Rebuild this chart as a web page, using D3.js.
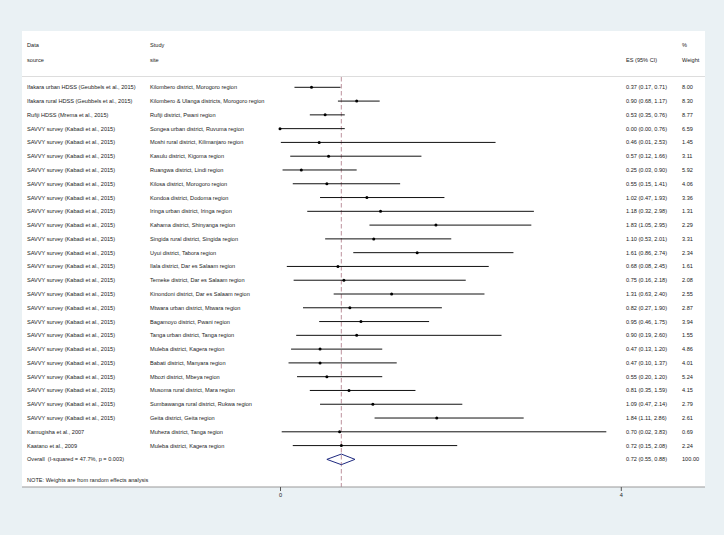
<!DOCTYPE html>
<html><head><meta charset="utf-8">
<script src="https://cdn.jsdelivr.net/npm/d3@7"></script>
<style>
html,body{margin:0;padding:0;background:#eaf1f4;}
svg{display:block;font-family:"Liberation Sans",Arial,Helvetica,sans-serif;}
text{white-space:pre;}
</style></head><body>
<svg id="c" width="724" height="535"></svg>
<script>
const sources = [
 "Ifakara urban HDSS (Geubbels et al., 2015)",
 "Ifakara rural HDSS (Geubbels et al., 2015)",
 "Rufiji HDSS (Mrema et al., 2015)",
 "SAVVY survey (Kabadi et al., 2015)","SAVVY survey (Kabadi et al., 2015)","SAVVY survey (Kabadi et al., 2015)",
 "SAVVY survey (Kabadi et al., 2015)","SAVVY survey (Kabadi et al., 2015)","SAVVY survey (Kabadi et al., 2015)",
 "SAVVY survey (Kabadi et al., 2015)","SAVVY survey (Kabadi et al., 2015)","SAVVY survey (Kabadi et al., 2015)",
 "SAVVY survey (Kabadi et al., 2015)","SAVVY survey (Kabadi et al., 2015)","SAVVY survey (Kabadi et al., 2015)",
 "SAVVY survey (Kabadi et al., 2015)","SAVVY survey (Kabadi et al., 2015)","SAVVY survey (Kabadi et al., 2015)",
 "SAVVY survey (Kabadi et al., 2015)","SAVVY survey (Kabadi et al., 2015)","SAVVY survey (Kabadi et al., 2015)",
 "SAVVY survey (Kabadi et al., 2015)","SAVVY survey (Kabadi et al., 2015)","SAVVY survey (Kabadi et al., 2015)",
 "SAVVY survey (Kabadi et al., 2015)",
 "Kamugisha et al., 2007",
 "Kaatano et al., 2009"
];
const sites = [
 "Kilombero district, Morogoro region",
 "Kilombero & Ulanga districts, Morogoro region",
 "Rufiji district, Pwani region",
 "Songea urban district, Ruvuma region",
 "Moshi rural district, Kilimanjaro region",
 "Kasulu district, Kigoma region",
 "Ruangwa district, Lindi region",
 "Kilosa district, Morogoro region",
 "Kondoa district, Dodoma region",
 "Iringa urban district, Iringa region",
 "Kahama district, Shinyanga region",
 "Singida rural district, Singida region",
 "Uyui district, Tabora region",
 "Ilala district, Dar es Salaam region",
 "Temeke district, Dar es Salaam region",
 "Kinondoni district, Dar es Salaam region",
 "Mtwara urban district, Mtwara region",
 "Bagamoyo district, Pwani region",
 "Tanga urban district, Tanga region",
 "Muleba district, Kagera region",
 "Babati district, Manyara region",
 "Mbozi district, Mbeya region",
 "Musoma rural district, Mara region",
 "Sumbawanga rural district, Rukwa region",
 "Geita district, Geita region",
 "Muheza district, Tanga region",
 "Muleba district, Kagera region"
];
const es    = [0.37,0.90,0.53,0.00,0.46,0.57,0.25,0.55,1.02,1.18,1.83,1.10,1.61,0.68,0.75,1.31,0.82,0.95,0.90,0.47,0.47,0.55,0.81,1.09,1.84,0.70,0.72];
const lower = [0.17,0.68,0.35,0.00,0.01,0.12,0.03,0.15,0.47,0.32,1.05,0.53,0.86,0.08,0.16,0.63,0.27,0.46,0.19,0.13,0.10,0.20,0.35,0.47,1.11,0.02,0.15];
const upper = [0.71,1.17,0.76,0.76,2.53,1.66,0.90,1.41,1.93,2.98,2.95,2.01,2.74,2.45,2.18,2.40,1.90,1.75,2.60,1.20,1.37,1.20,1.59,2.14,2.86,3.83,2.08];
const weights = ["8.00","8.30","8.77","6.59","1.45","3.11","5.92","4.06","3.36","1.31","2.29","3.31","2.34","1.61","2.08","2.55","2.87","3.94","1.55","4.86","4.01","5.24","4.15","2.79","2.61","0.69","2.24"];
const overallLabel = "Overall  (I-squared = 47.7%, p = 0.003)";
const overall = {es:0.72, lo:0.55, hi:0.88, weight:"100.00"};
const xTicks = [0, 4];
const noteText = "NOTE: Weights are from random effects analysis";

const svg = d3.select("#c");
const fs = 5.6;
const panel = {x0:22, x1:705, y0:31, y1:487};
const colSrc = 27, colSite = 150, colES = 626, colW = 682;

svg.append("rect").attr("x",panel.x0).attr("y",panel.y0)
  .attr("width",panel.x1-panel.x0).attr("height",panel.y1-panel.y0).attr("fill","#fff");

const x = d3.scaleLinear().domain([0,4]).range([280,620.8]);
const n = es.length;
const y = d3.scaleLinear().domain([0, n]).range([87.3, 87.3 + 13.78*n]);
const f2 = v => v.toFixed(2);

function txt(xp, yp, s, anchor){
  return svg.append("text").attr("x",xp).attr("y",yp).attr("dy","0.35em")
    .attr("font-size",fs).attr("fill","#222").attr("text-anchor",anchor||"start").text(s);
}
// header
txt(colSrc, 45.5, "Data"); txt(colSrc, 60, "source");
txt(colSite, 45.5, "Study"); txt(colSite, 60, "site");
txt(colES, 60, "ES (95% CI)");
txt(colW, 45.5, "%"); txt(colW, 60, "Weight");
svg.append("line").attr("x1",panel.x0).attr("x2",panel.x1).attr("y1",76.5).attr("y2",76.5)
  .attr("stroke","#dddddd").attr("stroke-width",1);

// overall dashed line
svg.append("line").attr("x1",x(overall.es)).attr("x2",x(overall.es)).attr("y1",77).attr("y2",panel.y1)
  .attr("stroke","#c39ca6").attr("stroke-width",1.1).attr("stroke-dasharray","4.5,2.5");

const idx = d3.range(n);
const g = svg.append("g");
g.selectAll("line.ci").data(idx).join("line").attr("class","ci")
  .attr("x1",i=>x(lower[i])).attr("x2",i=>x(upper[i]))
  .attr("y1",i=>y(i)).attr("y2",i=>y(i)).attr("stroke","#111").attr("stroke-width",1);
g.selectAll("circle").data(idx).join("circle")
  .attr("cx",i=>x(es[i])).attr("cy",i=>y(i)).attr("r",1.5).attr("fill","#000");

idx.forEach(i=>{
  txt(colSrc, y(i), sources[i]);
  txt(colSite, y(i), sites[i]);
  txt(colES, y(i), `${f2(es[i])} (${f2(lower[i])}, ${f2(upper[i])})`);
  txt(colW, y(i), weights[i]);
});

// overall row
const yo = y(n);
txt(colSrc, yo, overallLabel);
txt(colES, yo, `${f2(overall.es)} (${f2(overall.lo)}, ${f2(overall.hi)})`);
txt(colW, yo, overall.weight);
const h = 5.3;
svg.append("path").attr("d",
  `M${x(overall.lo)},${yo} L${x(overall.es)},${yo-h} L${x(overall.hi)},${yo} L${x(overall.es)},${yo+h} Z`)
  .attr("fill","none").attr("stroke","#1f2a80").attr("stroke-width",1);

txt(colSrc, 480, noteText);

// axis
svg.append("line").attr("x1",panel.x0).attr("x2",panel.x1).attr("y1",panel.y1).attr("y2",panel.y1)
  .attr("stroke","#999").attr("stroke-width",1);
const ax = svg.append("g").attr("transform",`translate(0,${panel.y1})`)
  .call(d3.axisBottom(x).tickValues(xTicks).tickSize(4).tickPadding(2).tickFormat(d3.format("d")));
ax.select(".domain").remove();
ax.selectAll(".tick line").attr("stroke","#555");
ax.selectAll(".tick text").attr("font-size",fs).attr("fill","#222")
  .attr("font-family","'Liberation Sans',Arial,sans-serif");
</script></body></html>
